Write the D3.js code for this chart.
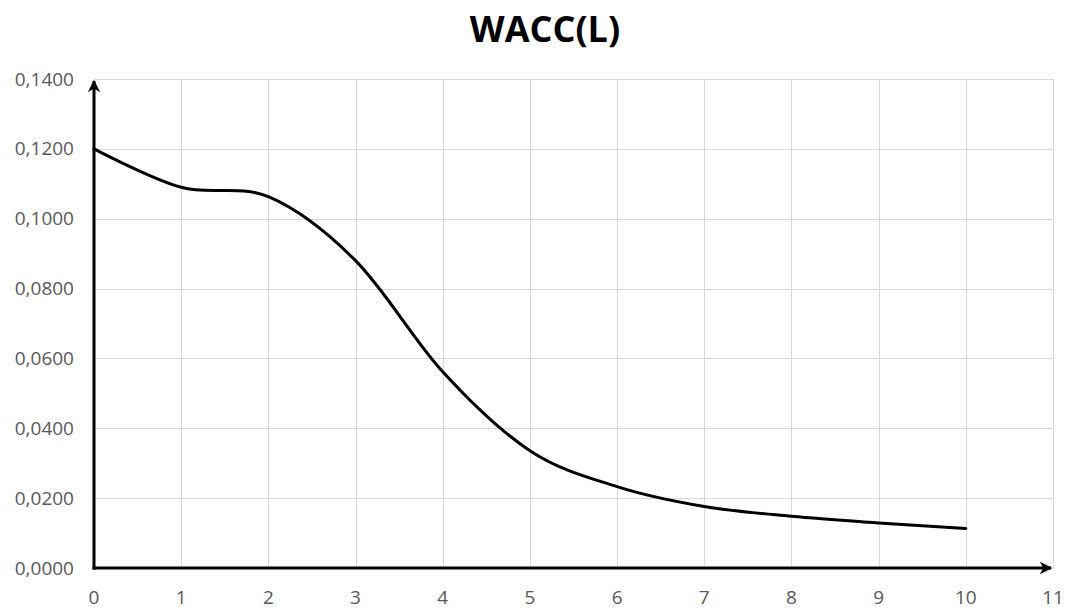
<!DOCTYPE html>
<html>
<head>
<meta charset="utf-8">
<script src="https://cdn.jsdelivr.net/npm/d3@7"></script>
<style>
  html, body { margin: 0; padding: 0; background: #fff; }
  svg { display: block; }
</style>
</head>
<body>
<svg id="chart" width="1067" height="610"></svg>
<script>
// WACC as a function of leverage L
const leverage = [0, 1, 2, 3, 4, 5, 6, 7, 8, 9, 10];
const wacc = [0.1200, 0.1090, 0.1063, 0.0880, 0.0562, 0.0336, 0.0233, 0.0176, 0.0148, 0.0129, 0.0113];
const xTicks = [0, 1, 2, 3, 4, 5, 6, 7, 8, 9, 10, 11];
const yTicks = [0, 0.02, 0.04, 0.06, 0.08, 0.10, 0.12, 0.14];
const chartTitle = "WACC(L)";

const svg = d3.select("#chart");
const margin = { left: 94, right: 1053, top: 79, bottom: 568 };

const x = d3.scaleLinear().domain([0, 11]).range([margin.left, margin.right]);
const y = d3.scaleLinear().domain([0, 0.14]).range([margin.bottom, margin.top]);

// grid
const grid = svg.append("g").attr("stroke", "#d9d9d9").attr("stroke-width", 1).attr("shape-rendering", "crispEdges");
grid.selectAll("line.v").data(xTicks.filter(d => d > 0)).join("line")
  .attr("x1", d => Math.round(x(d)) + 0.5).attr("x2", d => Math.round(x(d)) + 0.5)
  .attr("y1", y(0)).attr("y2", y(0.14));
grid.selectAll("line.h").data(yTicks.filter(d => d > 0)).join("line")
  .attr("x1", x(0)).attr("x2", x(11))
  .attr("y1", d => Math.round(y(d)) + 0.5).attr("y2", d => Math.round(y(d)) + 0.5);

// tick labels
const fmt = d => d3.format(".4f")(d).replace(".", ",");
svg.append("g").selectAll("text").data(yTicks).join("text")
  .attr("x", 74).attr("y", d => y(d) + 6.5)
  .attr("text-anchor", "end")
  .attr("font-family", "'Open Sans', sans-serif").attr("font-size", 19)
  .attr("fill", "#595959")
  .text(fmt);
svg.append("g").selectAll("text").data(xTicks).join("text")
  .attr("x", d => x(d)).attr("y", 604)
  .attr("text-anchor", "middle")
  .attr("font-family", "'Open Sans', sans-serif").attr("font-size", 19)
  .attr("fill", "#595959")
  .text(d => d);

// axes with arrowheads
const defs = svg.append("defs");
defs.append("marker").attr("id", "arrow")
  .attr("viewBox", "0 0 10 10").attr("refX", 9).attr("refY", 5)
  .attr("markerWidth", 4.2).attr("markerHeight", 4.2).attr("markerUnits", "strokeWidth")
  .attr("orient", "auto")
  .append("path").attr("d", "M0,0 L10,5 L0,10 L3,5 Z").attr("fill", "#000");

svg.append("line")
  .attr("x1", x(0)).attr("y1", y(0) + 1.5).attr("x2", x(0)).attr("y2", y(0.14) + 2)
  .attr("stroke", "#000").attr("stroke-width", 3).attr("marker-end", "url(#arrow)");
svg.append("line")
  .attr("x1", x(0) - 1.5).attr("y1", y(0)).attr("x2", x(11) - 2).attr("y2", y(0))
  .attr("stroke", "#000").attr("stroke-width", 3).attr("marker-end", "url(#arrow)");

// smoothed curve
const line = d3.line()
  .x((d, i) => x(leverage[i]))
  .y(d => y(d))
  .curve(d3.curveCardinal.tension(0));
svg.append("path").datum(wacc)
  .attr("d", line)
  .attr("fill", "none").attr("stroke", "#000").attr("stroke-width", 3)
  .attr("stroke-linecap", "round").attr("stroke-linejoin", "round");

// title
svg.append("text")
  .attr("x", 545).attr("y", 42)
  .attr("text-anchor", "middle")
  .attr("font-family", "'Open Sans', sans-serif").attr("font-weight", "bold").attr("font-size", 36)
  .attr("fill", "#000")
  .text(chartTitle);
</script>
</body>
</html>
